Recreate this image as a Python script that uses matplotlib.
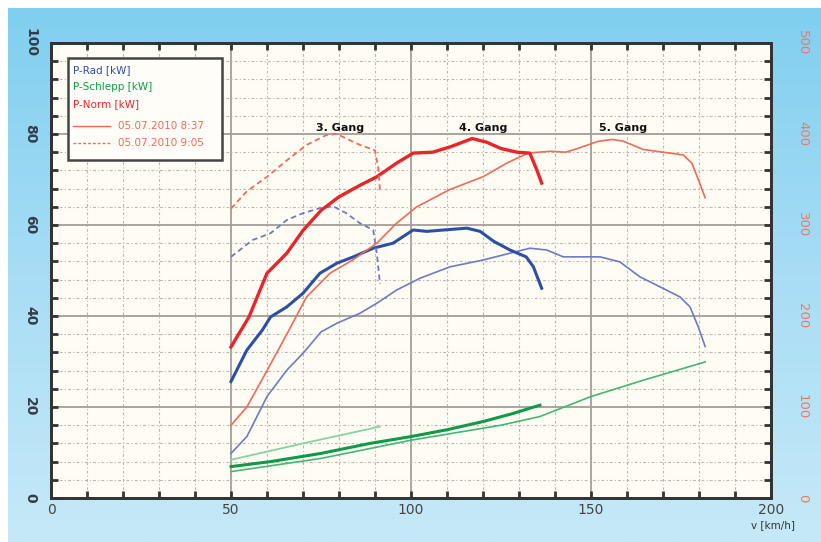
import numpy as np
import matplotlib
matplotlib.use('Agg')
import matplotlib.pyplot as plt
from matplotlib.ticker import MultipleLocator

# P-Rad [kW] (left axis)
rad_x = [50, 54.4, 58.7, 61, 65.5, 70, 74.7, 79.4, 84, 89.5, 95, 100.6, 104.4, 109, 115.5, 119.2, 123, 127.5, 132, 134, 136.3]
rad_y = [25.6, 32.5, 36.9, 39.8, 42, 45, 49.4, 51.6, 53, 54.9, 56, 58.9, 58.6, 58.9, 59.3, 58.6, 56.4, 54.5, 53, 50.8, 46.1]
rad2_x = [50, 54.4, 60, 65.5, 70, 75, 79.4, 85.8, 90.5, 96, 102.5, 110.8, 120, 127.5, 133, 137.7, 142.3, 147, 152.5,
          158, 163.6, 169.2, 174.7, 177.5, 179.8, 181.7]
rad2_y = [9.8, 13.5, 22.3, 28.1, 31.8, 36.5, 38.4, 40.6, 42.8, 45.7, 48.3, 50.8, 52.3, 53.8, 54.9, 54.5, 53, 53, 53,
          51.9, 48.6, 46.4, 44.2, 42, 37.6, 33.3]
rad3_x = [50, 56, 61, 65.5, 70, 74.7, 78.4, 82, 85.8, 89.5, 90.5, 91.4]
rad3_y = [53, 56.7, 58.2, 61.1, 62.6, 63.7, 64.1, 62.6, 60.4, 58.9, 53.8, 47]

# P-Schlepp [kW] (left axis)
schl_x = [50, 61, 75, 88.6, 100, 110, 120, 128, 135.8]
schl_y = [6.9, 8.0, 9.8, 12, 13.5, 15, 16.8, 18.5, 20.4]
schl2_x = [50, 75, 100, 125, 135.8, 150, 165, 181.7]
schl2_y = [5.8, 8.7, 12.7, 16, 17.9, 22.3, 26, 29.9]
schl3_x = [50, 70, 91.4]
schl3_y = [8.4, 12, 15.7]

# P-Norm [kW] (right axis)
norm_x = [50, 55, 60, 65.5, 70, 75, 80, 86, 90.5, 96, 100.6, 106, 111, 117, 121, 125, 129.5, 133, 135, 136.3]
norm_y = [166, 199, 247, 269, 294, 316, 331, 344, 353, 368, 379, 380, 386, 395, 391, 384, 380, 379, 360, 346]
norm2_x = [50, 54.4, 60, 65.5, 71, 77.5, 84, 90.5, 96, 101.6, 110.8, 120, 126.6, 132.5, 138.6, 143, 147, 152, 156,
           159, 164.5, 170, 175.6, 178, 179.8, 181.7]
norm2_y = [80, 100, 140, 180, 221, 247, 262, 280, 302, 320, 339, 353, 368, 379, 381, 380, 385, 392, 394,
           392, 383, 380, 377, 368, 350, 330]
norm3_x = [50, 54.4, 60, 65.5, 71, 76.6, 79.4, 82, 85.8, 90, 91, 91.4]
norm3_y = [318, 337, 353, 371, 388, 399, 400, 395, 388, 382, 360, 337]

gears = ['3. Gang', '4. Gang', '5. Gang']
gear_x = [80.3, 120, 158.9]
gear_y = 81.3

fig = plt.figure(figsize=(8.21, 5.42), dpi=100)
fig.patch.set_facecolor('white')

# blue gradient background
bg = fig.add_axes([8 / 821, 0, 1 - 8 / 821, 1 - 8 / 542], zorder=-10)
grad = np.linspace(0, 1, 256).reshape(-1, 1)
cmap = matplotlib.colors.LinearSegmentedColormap.from_list('bg', ['#80cff0', '#a8ddf5', '#c6e9f8'])
bg.imshow(grad, aspect='auto', cmap=cmap, extent=[0, 1, 0, 1], origin='upper')
bg.axis('off')

ax = fig.add_axes([51 / 821, 44 / 542, 720 / 821, 455 / 542])
ax.set_facecolor('#fffcf3')
ax.set_xlim(0, 200)
ax.set_ylim(0, 100)
ax.xaxis.set_major_locator(MultipleLocator(50))
ax.xaxis.set_minor_locator(MultipleLocator(10))
ax.yaxis.set_major_locator(MultipleLocator(20))
ax.yaxis.set_minor_locator(MultipleLocator(4))
ax.grid(True, which='major', color='#a39e98', lw=1.3)
ax.grid(True, which='minor', color='#bdb6ae', lw=0.8, ls=(0, (2.5, 2, 1, 2)))
ax.set_axisbelow(True)
for s in ax.spines.values():
    s.set_color('#333333')
    s.set_linewidth(2)
ax.tick_params(which='both', direction='in', top=True, right=False, color='#333333', width=2)
ax.tick_params(which='major', length=5, labelsize=10, labelcolor='#444444')
ax.tick_params(which='minor', length=5)
ax.tick_params(axis='y', which='major', pad=10)
for lab in ax.get_yticklabels():
    lab.set_rotation(270)
    lab.set_va('center')
    lab.set_fontweight('bold')
    lab.set_color('#353b48')

c_blue, c_blue2 = '#2c4fa6', '#6b7cc6'
c_green, c_green2, c_green3 = '#0f9a4a', '#45b577', '#86d2a2'
c_red, c_red2 = '#e8252a', '#f06a5a'

ax.plot(rad2_x, rad2_y, color=c_blue2, lw=1.2)
ax.plot(rad_x, rad_y, color=c_blue, lw=2.2)
ax.plot(rad3_x, rad3_y, color=c_blue2, lw=1.3, ls=(0, (3, 2)))
ax.plot(schl2_x, schl2_y, color=c_green2, lw=1.2)
ax.plot(schl3_x, schl3_y, color=c_green3, lw=1.3)
ax.plot(schl_x, schl_y, color=c_green, lw=2.2)

ax2 = ax.twinx()
ax2.set_ylim(0, 500)
ax2.yaxis.set_major_locator(MultipleLocator(100))
ax2.yaxis.set_minor_locator(MultipleLocator(20))
ax2.tick_params(which='both', direction='in', color='#333333', width=2, length=5)
ax2.tick_params(which='major', labelsize=9.5, labelcolor='#ee7a5e', pad=18)
for lab in ax2.get_yticklabels():
    lab.set_rotation(270)
    lab.set_va('center')
for s in ax2.spines.values():
    s.set_color('#333333')
    s.set_linewidth(2)
ax2.plot(norm2_x, norm2_y, color=c_red2, lw=1.2)
ax2.plot(norm_x, norm_y, color=c_red, lw=2.4)
ax2.plot(norm3_x, norm3_y, color=c_red2, lw=1.3, ls=(0, (3, 2)))

for g, gx in zip(gears, gear_x):
    ax.text(gx, gear_y, g, ha='center', va='center', fontsize=8, fontweight='bold', color='#111111')

ax.text(1.003, -0.059, 'v [km/h]', transform=ax.transAxes, ha='center', va='center',
        fontsize=7.5, color='#333333')

# legend box
box = matplotlib.patches.Rectangle((0.024, 0.743), 0.2135, 0.224, transform=ax.transAxes,
                                   facecolor='#fffdf7', edgecolor='#444444', lw=1.8, zorder=5)
ax.add_patch(box)
leg_rows = [('P-Rad [kW]', c_blue), ('P-Schlepp [kW]', c_green), ('P-Norm [kW]', c_red)]
rows_y = [0.941, 0.903, 0.866]
for (t, c), yy in zip(leg_rows, rows_y):
    ax.text(0.031, yy, t, transform=ax.transAxes, fontsize=7.5, color=c, va='center', zorder=6)
ax.plot([0.031, 0.082], [0.818, 0.818], transform=ax.transAxes, color=c_red2, lw=1, zorder=6)
ax.plot([0.031, 0.082], [0.780, 0.780], transform=ax.transAxes, color=c_red2, lw=1, ls=(0, (2, 1.5)), zorder=6)
ax.text(0.093, 0.818, '05.07.2010 8:37', transform=ax.transAxes, fontsize=7.5, color=c_red2, va='center', zorder=6)
ax.text(0.093, 0.780, '05.07.2010 9:05', transform=ax.transAxes, fontsize=7.5, color=c_red2, va='center', zorder=6)

fig.savefig('out.png', dpi=100)
